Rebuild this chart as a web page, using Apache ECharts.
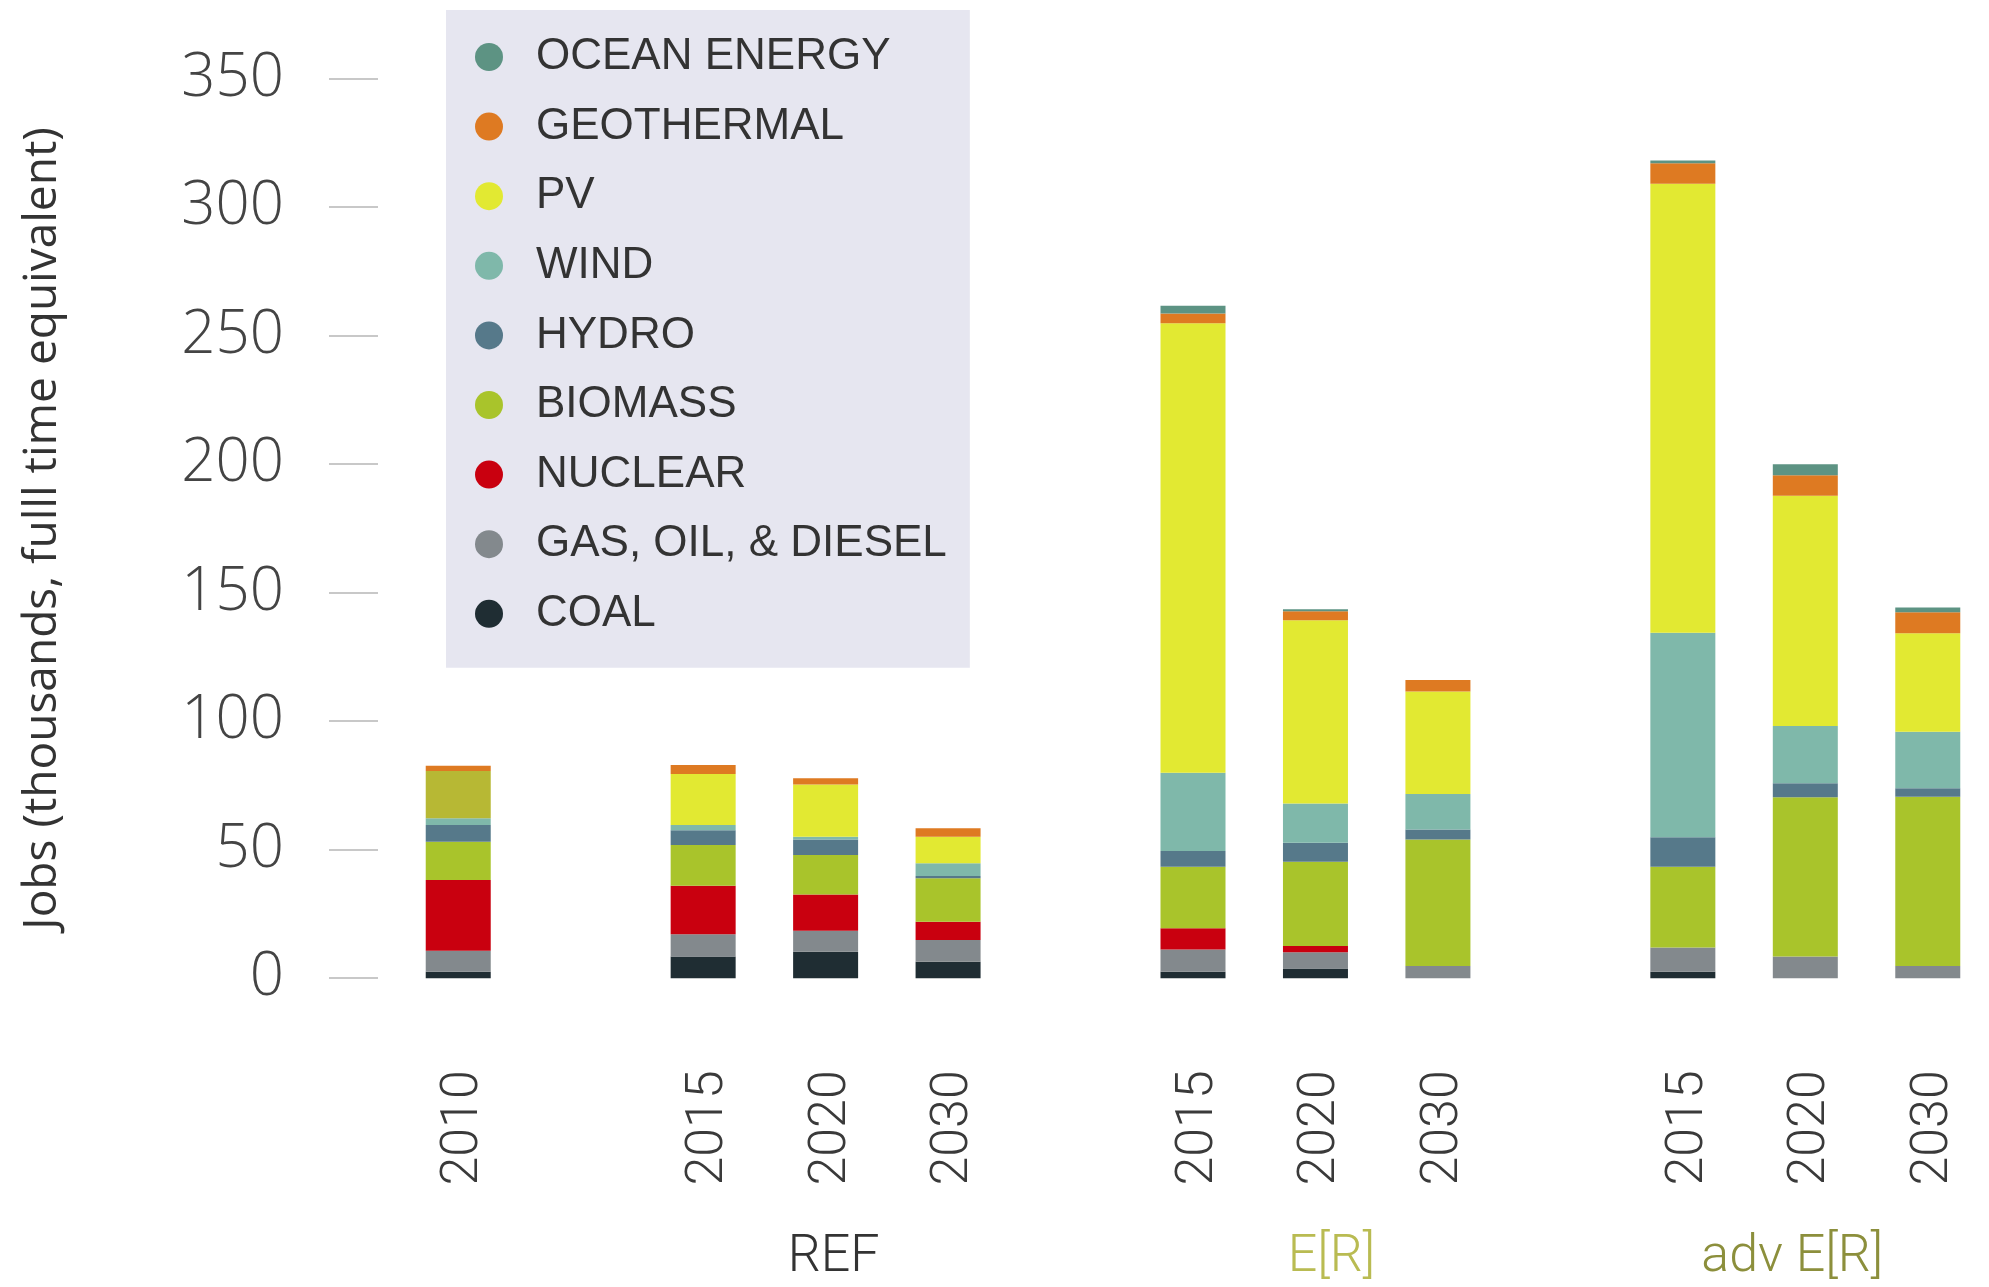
<!DOCTYPE html>
<html>
<head>
<meta charset="utf-8">
<script src="https://cdn.jsdelivr.net/npm/echarts@6/dist/echarts.min.js"></script>
<style>
html,body{margin:0;padding:0;background:#fff;}
#chart{width:1989px;height:1287px;}
</style>
</head>
<body>
<div id="chart"></div>
<script>
// ---- data ----
const categories = ['2010', '', '2015', '2020', '2030', '', '2015', '2020', '2030', '', '2015', '2020', '2030'];
const groupLabels = ['', '', '', 'REF', '', '', '', 'E[R]', '', '', '', 'adv E[R]', ''];
const yTicks = [0, 50, 100, 150, 200, 250, 300, 350];

const coal       = [2.5, null, 8.4, 10.3, 6.4, null, 2.5, 3.8, 0, null, 2.5, 0, 0];
const gasOil     = [8.2, null, 8.7, 8.2, 8.5, null, 8.7, 6.3, 4.7, null, 9.4, 8.4, 4.7];
const nuclear    = [27.5, null, 18.9, 14.1, 7.1, null, 8.2, 2.4, 0, null, 0, 0, 0];
const biomass    = [14.9, null, 15.8, 15.3, 16.9, null, 24.0, 32.8, 49.3, null, 31.5, 62.0, 65.9];
const hydro      = [6.5, null, 5.8, 6.1, 0.9, null, 6.1, 7.4, 3.9, null, 11.4, 5.4, 3.3];
const wind       = [2.6, null, 2.0, 1.0, 4.9, null, 30.4, 15.3, 13.8, null, 79.6, 22.3, 22.0];
const pv         = [18.4, null, 19.8, 20.4, 10.3, null, 174.9, 71.3, 39.8, null, 174.7, 89.6, 38.3];
const geothermal = [2.1, null, 3.5, 2.4, 3.3, null, 3.8, 3.5, 4.5, null, 8.0, 8.0, 8.2];
const ocean      = [0, null, 0, 0, 0, null, 3.0, 0.7, 0, null, 1.0, 4.3, 1.8];

const seriesNames = ['COAL', 'GAS, OIL, & DIESEL', 'NUCLEAR', 'BIOMASS', 'HYDRO', 'WIND', 'PV', 'GEOTHERMAL', 'OCEAN ENERGY'];

// ---- styles ----
const colors = {
  'COAL': '#1f2d33',
  'GAS, OIL, & DIESEL': '#83898d',
  'NUCLEAR': '#c9000f',
  'BIOMASS': '#a9c42b',
  'HYDRO': '#56798a',
  'WIND': '#7fb8aa',
  'PV': '#e2e932',
  'GEOTHERMAL': '#de7a22',
  'OCEAN ENERGY': '#5d9383'
};
const pv2010Color = '#b7b834';
const labelFont = 'Roboto';

const values = [coal, gasOil, nuclear, biomass, hydro, wind, pv, geothermal, ocean];

const series = seriesNames.map((name, k) => ({
  name: name,
  type: 'bar',
  stack: 'jobs',
  barWidth: 65,
  itemStyle: { color: colors[name] },
  data: name === 'PV'
    ? values[k].map((v, i) => i === 0 ? { value: v, itemStyle: { color: pv2010Color } } : v)
    : values[k]
}));

const chart = echarts.init(document.getElementById('chart'));
chart.setOption({
  animation: false,
  backgroundColor: '#ffffff',
  grid: { left: 397, right: -26, top: 78.6, bottom: 308.8, containLabel: false },
  legend: {
    orient: 'vertical',
    left: 446,
    top: 10,
    backgroundColor: '#e6e6f0',
    padding: [22, 23, 29, 29],
    itemWidth: 28,
    itemHeight: 28,
    itemGap: 19.6,
    icon: 'circle',
    data: seriesNames.slice().reverse(),
    textStyle: {
      fontFamily: 'Liberation Sans',
      fontSize: 44,
      lineHeight: 50,
      color: '#333',
      padding: [0, 0, 0, 28]
    }
  },
  xAxis: [
    {
      type: 'category',
      data: categories,
      axisLine: { show: false },
      axisTick: { show: false },
      axisLabel: {
        rotate: 90,
        interval: 0,
        margin: 92,
        formatter: function (v) { return v ? '{y|' + v + '}' : ''; },
        rich: {
          y: { fontFamily: labelFont, fontWeight: 300, fontSize: 52, color: '#3a3a3a', padding: [12, 0, 0, 0] }
        }
      }
    },
    {
      type: 'category',
      position: 'bottom',
      data: groupLabels,
      axisLine: { show: false },
      axisTick: { show: false },
      axisLabel: {
        interval: 0,
        margin: 254,
        formatter: function (v) {
          if (v === 'REF') return '{ref|REF}';
          if (v === 'E[R]') return '{er|E[R]}';
          if (v === 'adv E[R]') return '{adv|adv E[R]}';
          return '';
        },
        rich: {
          ref: { fontFamily: labelFont, fontWeight: 300, fontSize: 52, color: '#333', padding: [0, 0, 0, 16] },
          er: { fontFamily: labelFont, fontWeight: 300, fontSize: 52, color: '#b9bb52', padding: [0, 0, 0, 32] },
          adv: { fontFamily: labelFont, fontWeight: 300, fontSize: 52, color: '#8c8f3c', padding: [0, 26, 0, 0] }
        }
      }
    }
  ],
  yAxis: {
    type: 'value',
    min: yTicks[0],
    max: yTicks[yTicks.length - 1],
    interval: 50,
    offset: 19,
    name: 'Jobs (thousands, fulll time equivalent)',
    nameLocation: 'middle',
    nameGap: 312,
    nameTextStyle: { fontFamily: 'Open Sans', fontSize: 46, color: '#333' },
    splitLine: { show: false },
    axisLine: { show: false },
    axisTick: { show: true, length: 49, lineStyle: { color: '#c8c8c8', width: 2 } },
    axisLabel: {
      margin: 94,
      fontFamily: 'Open Sans',
      fontWeight: 300,
      fontSize: 60,
      color: '#444'
    }
  },
  series: series
});
</script>
</body>
</html>
